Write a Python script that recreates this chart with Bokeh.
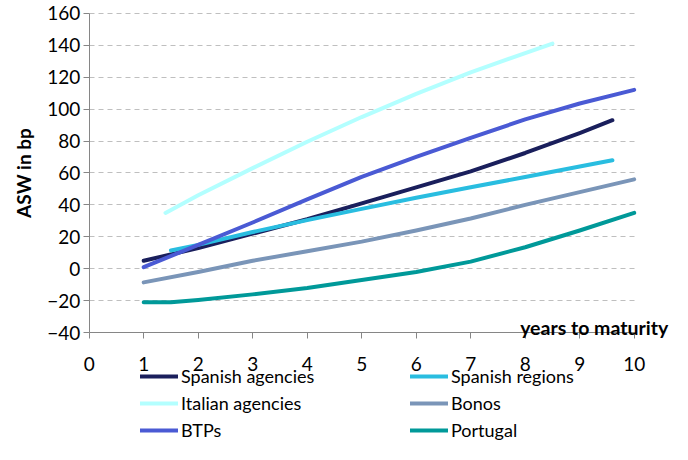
import math
from bokeh.plotting import figure
from bokeh.models import Range1d, Legend, LegendItem, Label, FixedTicker, LinearAxis
from bokeh.embed import file_html
from bokeh.resources import INLINE

# ---- data ----
x_sp_ag = [1, 2, 3, 4, 5, 6, 7, 8, 9, 9.6]
y_sp_ag = [5, 13, 22, 31, 41, 51, 61, 72.5, 85, 93]

x_sp_reg = [1.5, 2, 3, 4, 5, 6, 7, 8, 9, 9.6]
y_sp_reg = [11.5, 15, 23, 30.5, 37.5, 44.5, 51, 57.5, 64, 68]

x_it_ag = [1.4, 2, 3, 4, 5, 6, 7, 8, 8.5]
y_it_ag = [35, 46, 63, 79.5, 95, 109.5, 123, 135, 141]

x_bonos = [1, 2, 3, 4, 5, 6, 7, 8, 9, 10]
y_bonos = [-8.5, -2, 5, 11, 17, 24, 31.5, 40, 48, 56]

x_btps = [1, 2, 3, 4, 5, 6, 7, 8, 9, 10]
y_btps = [1, 15, 29, 43.5, 57.5, 70, 82, 93.5, 103.5, 112]

x_port = [1, 1.5, 2, 3, 4, 5, 6, 7, 8, 9, 10]
y_port = [-21, -21, -19.5, -16, -12, -7, -2, 4.5, 13.5, 24, 35]

series_names = ["Spanish agencies", "Spanish regions", "Italian agencies",
                "Bonos", "BTPs", "Portugal"]
series_colors = ["#1a1f5c", "#29bde0", "#b3ffff", "#7a95b8", "#4a5ad4", "#009999"]
x_ticks = [0, 1, 2, 3, 4, 5, 6, 7, 8, 9, 10]
y_ticks = [-40, -20, 0, 20, 40, 60, 80, 100, 120, 140, 160]
x_min, x_max = 0, 10
y_min, y_max = -40, 160

FONT = "Lato"

# the frame covers the whole canvas; axes are drawn at fixed data positions
p = figure(width=672, height=444, output_backend="svg", toolbar_location=None,
           x_range=Range1d(-1.6275, 10.703), y_range=Range1d(-109.98, 167.95),
           x_axis_location=None, y_axis_location=None,
           min_border_left=0, min_border_right=0, min_border_top=0,
           min_border_bottom=0)
p.outline_line_color = None
p.background_fill_color = "white"

xaxis = LinearAxis(fixed_location=y_min, bounds=(x_min, x_max),
                   ticker=FixedTicker(ticks=x_ticks))
yaxis = LinearAxis(fixed_location=x_min, bounds=(y_min, y_max),
                   ticker=FixedTicker(ticks=y_ticks))
p.add_layout(xaxis, "below")
p.add_layout(yaxis, "left")

# grid
p.xgrid.grid_line_color = None
p.ygrid.grid_line_color = "#bfbfbf"
p.ygrid.grid_line_dash = "5 4"
p.ygrid.grid_line_width = 1
p.ygrid.cross_bounds = (x_min, x_max)
p.ygrid.ticker = FixedTicker(ticks=y_ticks[1:])

for ax in (xaxis, yaxis):
    ax.axis_line_color = "#868686"
    ax.axis_line_width = 1
    ax.major_tick_line_color = "#868686"
    ax.major_tick_in = 0
    ax.major_tick_out = 6
    ax.minor_tick_line_color = None
    ax.major_label_text_font = FONT
    ax.major_label_text_font_size = "19px"
    ax.major_label_text_color = "#000000"

xaxis.major_label_standoff = 18
yaxis.major_label_standoff = 3

# y-axis title
p.add_layout(Label(x=x_min, y=(y_min + y_max) / 2, x_offset=-66, text="ASW in bp",
                   angle=math.pi / 2, text_align="center", text_baseline="middle",
                   text_font=FONT, text_font_size="19px", text_font_style="bold",
                   text_color="#000000"))

# lines
xs = [x_sp_ag, x_sp_reg, x_it_ag, x_bonos, x_btps, x_port]
ys = [y_sp_ag, y_sp_reg, y_it_ag, y_bonos, y_btps, y_port]
renderers = []
for xv, yv, c in zip(xs, ys, series_colors):
    r = p.line(xv, yv, line_color=c, line_width=4, line_cap="round", line_join="round")
    renderers.append(r)

# x-axis title inside plot
p.add_layout(Label(x=x_max, y=-37, x_offset=34, text="years to maturity",
                   text_align="right", text_baseline="alphabetic",
                   text_font=FONT, text_font_size="19.5px", text_font_style="bold",
                   text_color="#000000"))

# legend: two columns, row-major reading order (filled column-first)
order = [0, 2, 4, 1, 3, 5]
legend = Legend(items=[LegendItem(label=series_names[i], renderers=[renderers[i]]) for i in order],
                ncols=2, location=(140, 3))
legend.glyph_width = 38
legend.glyph_height = 18
legend.label_height = 18
legend.label_width = 224
legend.label_standoff = 3
legend.spacing = 5
legend.padding = 0
legend.margin = 0
legend.border_line_color = None
legend.background_fill_alpha = 0
legend.label_text_font = FONT
legend.label_text_font_size = "18px"
legend.label_text_color = "#000000"
p.add_layout(legend)

open("out.html", "w").write(file_html(p, INLINE))
